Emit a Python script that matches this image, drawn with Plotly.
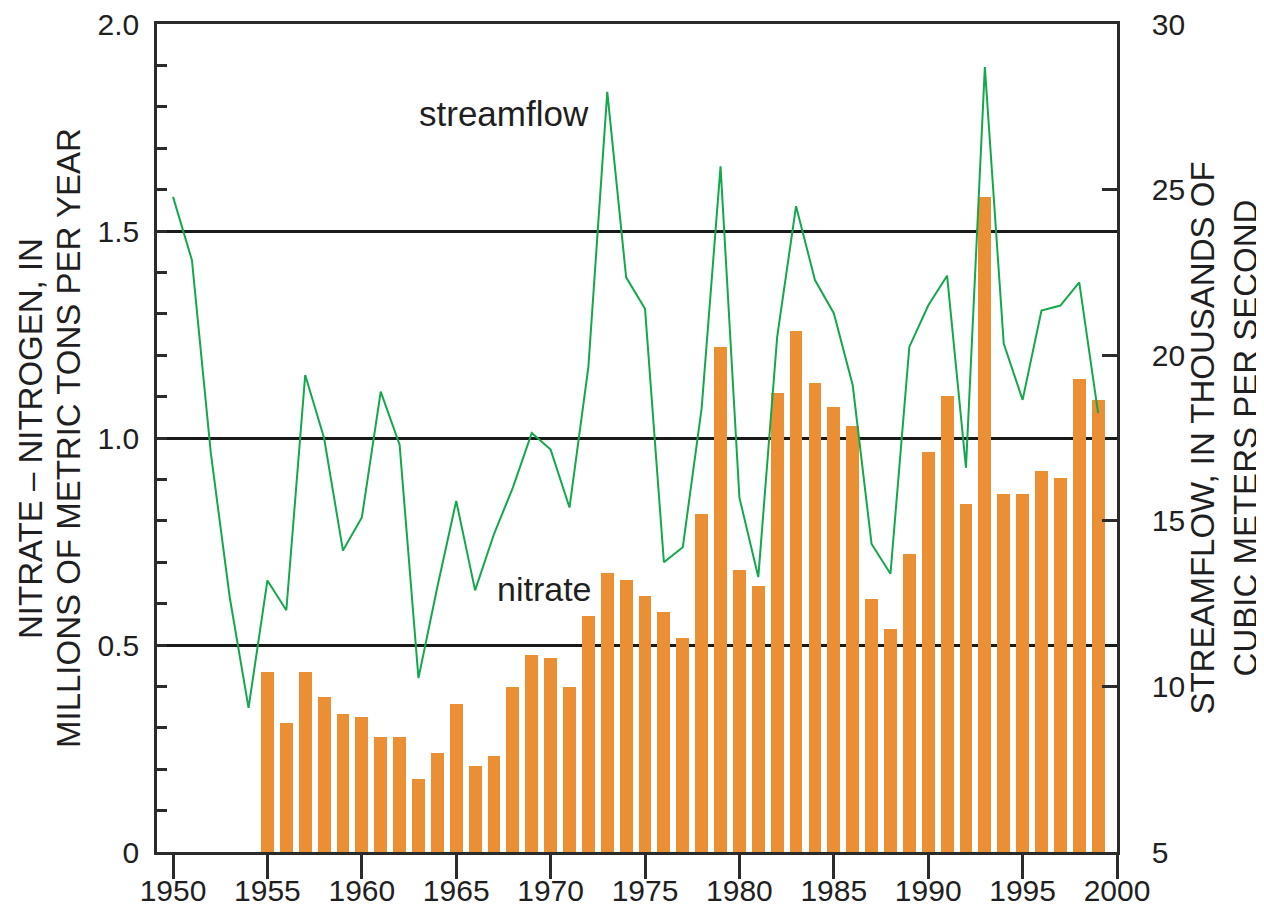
import plotly.graph_objects as go

# ---- data -------------------------------------------------------------
bar_years = [1955, 1956, 1957, 1958, 1959, 1960, 1961, 1962, 1963, 1964,
             1965, 1966, 1967, 1968, 1969, 1970, 1971, 1972, 1973, 1974,
             1975, 1976, 1977, 1978, 1979, 1980, 1981, 1982, 1983, 1984,
             1985, 1986, 1987, 1988, 1989, 1990, 1991, 1992, 1993, 1994,
             1995, 1996, 1997, 1998, 1999]
nitrate = [0.435, 0.311, 0.435, 0.374, 0.333, 0.325, 0.277, 0.277, 0.176, 0.238,
           0.357, 0.208, 0.232, 0.398, 0.476, 0.468, 0.398, 0.570, 0.673, 0.657,
           0.618, 0.579, 0.516, 0.816, 1.220, 0.681, 0.643, 1.108, 1.258, 1.132,
           1.076, 1.029, 0.610, 0.539, 0.721, 0.967, 1.101, 0.840, 1.583, 0.864,
           0.864, 0.920, 0.903, 1.142, 1.093]

flow_years = [1950, 1951, 1952, 1953, 1954, 1955, 1956, 1957, 1958, 1959,
              1960, 1961, 1962, 1963, 1964, 1965, 1966, 1967, 1968, 1969,
              1970, 1971, 1972, 1973, 1974, 1975, 1976, 1977, 1978, 1979,
              1980, 1981, 1982, 1983, 1984, 1985, 1986, 1987, 1988, 1989,
              1990, 1991, 1992, 1993, 1994, 1995, 1996, 1997, 1998, 1999]
streamflow = [24.78, 22.87, 17.05, 12.70, 9.35, 13.20, 12.30, 19.40, 17.50, 14.10,
              15.10, 18.90, 17.30, 10.25, 13.00, 15.60, 12.90, 14.60, 16.00, 17.65,
              17.15, 15.40, 19.65, 27.95, 22.35, 21.40, 13.75, 14.20, 18.40, 25.70,
              15.70, 13.30, 20.55, 24.50, 22.27, 21.27, 19.10, 14.30, 13.40, 20.25,
              21.50, 22.40, 16.60, 28.70, 20.35, 18.65, 21.35, 21.50, 22.20, 18.25]

x_ticks = [1950, 1955, 1960, 1965, 1970, 1975, 1980, 1985, 1990, 1995, 2000]
left_tickvals = [0, 0.5, 1.0, 1.5, 2.0]
left_ticktext = ["0", "0.5", "1.0", "1.5", "2.0"]
right_tickvals = [5, 10, 15, 20, 25, 30]

left_title_lines = ["NITRATE – NITROGEN, IN", "MILLIONS OF METRIC TONS PER YEAR"]
right_title = "STREAMFLOW, IN THOUSANDS OF<br>CUBIC METERS PER SECOND"

# ---- styles -----------------------------------------------------------
AX = "#2b2b2b"
TXT = "#1f1f1f"
FONT = "Liberation Sans, Arial, Helvetica, sans-serif"

fig = go.Figure()
fig.add_trace(go.Bar(
    x=bar_years, y=nitrate, width=0.68,
    marker=dict(color="#EB8F35", line=dict(width=0)),
    yaxis="y", name="nitrate", showlegend=False,
))
fig.add_trace(go.Scatter(
    x=flow_years, y=streamflow, mode="lines",
    line=dict(color="#13A84B", width=2),
    yaxis="y2", name="streamflow", showlegend=False,
))

fig.add_annotation(x=1967.53, y=1.785, xref="x", yref="y", text="streamflow",
                   showarrow=False, xanchor="center", yanchor="middle",
                   font=dict(family=FONT, size=35, color=TXT))
fig.add_annotation(x=1969.7, y=0.636, xref="x", yref="y", text="nitrate",
                   showarrow=False, xanchor="center", yanchor="middle",
                   font=dict(family=FONT, size=34, color=TXT))

# left axis title, one rotated line each
for xp, line in zip([-0.1323, -0.0927], left_title_lines):
    fig.add_annotation(x=xp, y=0.5, xref="paper", yref="paper", text=line,
                       textangle=-90, showarrow=False,
                       xanchor="center", yanchor="middle",
                       font=dict(family=FONT, size=33, color=TXT))

# the page body adds an 8px offset; size the figure so that the plot area
# lands at x 157..1117, y 24..852 of the window
fig.update_layout(
    width=1256, height=910,
    margin=dict(l=149, r=147, t=16, b=66),
    paper_bgcolor="white", plot_bgcolor="white",
    font=dict(family=FONT, color=TXT),
    bargap=0,
    xaxis=dict(
        range=[1949.15, 2000], tickvals=x_ticks, ticks="outside", ticklen=24,
        tickwidth=2.5, tickcolor=AX, showline=True, linecolor=AX, linewidth=2.5,
        mirror=True, showgrid=False, zeroline=False, automargin=False,
        tickfont=dict(family=FONT, size=30, color=TXT),
        ticklabelstandoff=-14, ticklabeloverflow="allow",
    ),
    yaxis=dict(
        range=[0, 2.0], tickvals=left_tickvals, ticktext=left_ticktext,
        ticks="inside", ticklen=10, tickwidth=2.5, tickcolor=AX,
        showline=True, linecolor=AX, linewidth=2.5, automargin=False,
        showgrid=True, gridcolor="#1a1a1a", gridwidth=2.5, zeroline=False,
        minor=dict(dtick=0.1, ticks="inside", ticklen=10, tickwidth=2.5,
                   tickcolor=AX, showgrid=False),
        tickfont=dict(family=FONT, size=30, color=TXT),
        ticklabelstandoff=9, ticklabeloverflow="allow",
    ),
    yaxis2=dict(
        overlaying="y", side="right", range=[5, 30], tickvals=right_tickvals,
        ticks="inside", ticklen=15, tickwidth=2.5, tickcolor=AX,
        showline=True, linecolor=AX, linewidth=2.5, automargin=False,
        showgrid=False, zeroline=False,
        tickfont=dict(family=FONT, size=30, color=TXT),
        ticklabelstandoff=26, ticklabeloverflow="allow",
        title=dict(text=right_title, standoff=14,
                   font=dict(family=FONT, size=33, color=TXT)),
    ),
)

fig.write_html("out.html")
